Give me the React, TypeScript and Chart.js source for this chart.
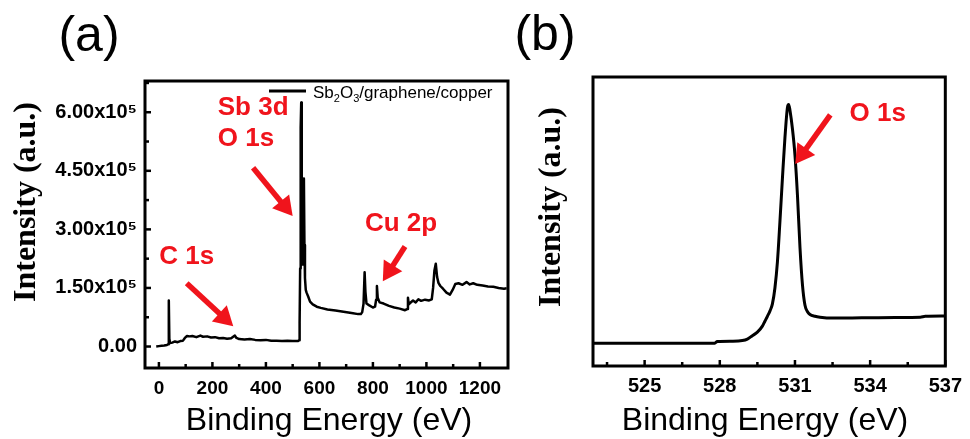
import React, { useEffect, useRef } from 'react';
import { Chart, registerables } from 'chart.js';

Chart.register(...registerables);

// ---------- data: (a) XPS survey ----------
const surveyEnergy = [
  -10, 0, 10, 20, 30, 35, 37, 39, 42, 50, 60, 70, 80, 90, 97, 105, 115, 125, 140, 155,
  165, 180, 195, 210, 225, 240, 255, 270, 284, 290, 300, 320, 340, 360, 380, 400, 420, 440, 460, 480,
  500, 515, 520, 524, 526, 528, 530, 532, 534, 536, 538, 540, 542, 544, 546, 549, 552, 558, 565, 575,
  590, 605, 630, 660, 690, 720, 745, 755, 760, 765, 769, 772, 776, 785, 800, 808, 812, 815, 818, 825,
  840, 860, 880, 900, 920, 928, 931, 934, 940, 950, 960, 970, 980, 995, 1010, 1020, 1025, 1030, 1035, 1040,
  1045, 1052, 1062, 1075, 1088, 1098, 1108, 1120, 1135, 1150, 1162, 1175, 1190, 1210, 1230, 1250, 1270, 1290, 1300,
];
const surveyIntensity = [
  0, 1000, 2000, 2500, 4000, 6000, 118000, 20000, 9000, 10000, 13000, 11000, 14000, 15000, 22000, 27000, 26000, 27000, 24000, 28000,
  25000, 26000, 23000, 24000, 21000, 22000, 20000, 21000, 28000, 22000, 19000, 18000, 19000, 17000, 16000, 17000, 15000, 15000, 14000, 14500,
  14000, 14000, 14000, 16000, 60000, 200000, 560000, 625000, 330000, 210000, 240000, 300000, 430000, 260000, 175000, 145000, 138000, 128000, 115000, 108000,
  102000, 99000, 95000, 92000, 89000, 86000, 83000, 83000, 88000, 110000, 190000, 140000, 110000, 106000, 100000, 102000, 120000, 155000, 125000, 113000,
  110000, 104000, 100000, 97000, 93000, 96000, 125000, 108000, 112000, 118000, 113000, 121000, 117000, 120000, 118000, 121000, 150000, 195000, 212000, 178000,
  163000, 155000, 148000, 138000, 133000, 145000, 160000, 162000, 158000, 165000, 159000, 162000, 158000, 156000, 154000, 153000, 150000, 148000, 149000,
];
const surveyXTicks = [0, 200, 400, 600, 800, 1000, 1200];
const surveyXMinor = [100, 300, 500, 700, 900, 1100];
const surveyYTicks = [0, 150000, 300000, 450000, 600000];
const surveyYMinor = [75000, 225000, 375000, 525000, 675000];

// ---------- data: (b) O 1s ----------
const o1sEnergy = [
  522.9, 524.0, 525.0, 526.0, 527.0, 527.8, 527.9, 528.5, 528.9, 529.1, 529.3, 529.5, 529.7, 529.8, 529.9,
  530.0, 530.1, 530.2, 530.3, 530.4, 530.5, 530.6, 530.7, 530.75, 530.8, 530.9, 531.0, 531.1, 531.2, 531.3,
  531.4, 531.5, 531.6, 531.8, 532.0, 532.5, 533.0, 534.0, 535.0, 536.0, 536.2, 537.0,
];
const o1sIntensity = [
  0.079, 0.079, 0.079, 0.079, 0.079, 0.079, 0.085, 0.086, 0.088, 0.093, 0.105, 0.117, 0.138, 0.155, 0.172,
  0.19, 0.215, 0.27, 0.36, 0.5, 0.65, 0.79, 0.895, 0.905, 0.885, 0.82, 0.73, 0.59, 0.41, 0.28,
  0.21, 0.188, 0.178, 0.172, 0.169, 0.166, 0.166, 0.167, 0.168, 0.169, 0.172, 0.173,
];
const o1sXTicks = [525, 528, 531, 534, 537];
const o1sXMinor = [523.5, 526.5, 529.5, 532.5, 535.5];

// ---------- annotation texts ----------
const surveyLabels = [
  { text: 'Sb 3d', x: 220, y: 612000 },
  { text: 'O 1s', x: 220, y: 531000 },
  { text: 'C 1s', x: 1, y: 229000 },
  { text: 'Cu 2p', x: 770, y: 315000 },
];
const surveyArrows = [
  { x0: 352, y0: 458000, x1: 500, y1: 334000 },
  { x0: 104, y0: 162000, x1: 278, y1: 52000 },
  { x0: 920, y0: 256000, x1: 837, y1: 167000 },
];
const o1sLabels = [{ text: 'O 1s', x: 533.18, y: 0.872 }];
const o1sArrows = [{ x0: 532.41, y0: 0.869, x1: 531.01, y1: 0.699 }];
const legendParts = [
  { t: 'Sb', sub: false },
  { t: '2', sub: true },
  { t: 'O', sub: false },
  { t: '3', sub: true },
  { t: '/graphene/copper', sub: false },
];

const SANS = "'Liberation Sans', Arial, Helvetica, sans-serif";
const SERIF = "'Liberation Serif', 'Times New Roman', serif";
const RED = '#f0141c';

const frameTicksPlugin = {
  id: 'frameTicks',
  afterDatasetsDraw(chart: any, _args: any, opts: any) {
    const { ctx, chartArea: a } = chart;
    const xs = chart.scales.x;
    const ys = chart.scales.y;
    ctx.save();
    ctx.strokeStyle = '#000';
    ctx.lineWidth = 2.5;
    const seg = (x0: number, y0: number, x1: number, y1: number) => {
      ctx.beginPath();
      ctx.moveTo(x0, y0);
      ctx.lineTo(x1, y1);
      ctx.stroke();
    };
    (opts.xMajor || []).forEach((v: number) => {
      const p = xs.getPixelForValue(v);
      seg(p, a.bottom, p, a.bottom - 6);
    });
    (opts.xMinor || []).forEach((v: number) => {
      const p = xs.getPixelForValue(v);
      seg(p, a.bottom, p, a.bottom - 4);
    });
    (opts.yMajor || []).forEach((v: number) => {
      const p = ys.getPixelForValue(v);
      seg(a.left, p, a.left + 6, p);
    });
    (opts.yMinor || []).forEach((v: number) => {
      const p = ys.getPixelForValue(v);
      seg(a.left, p, a.left + 4, p);
    });
    ctx.lineWidth = 3;
    ctx.strokeRect(a.left, a.top, a.right - a.left, a.bottom - a.top);
    ctx.restore();
  },
};

const notesPlugin = {
  id: 'notes',
  afterDraw(chart: any, _args: any, opts: any) {
    const { ctx, chartArea: a } = chart;
    const xs = chart.scales.x;
    const ys = chart.scales.y;
    ctx.save();
    ctx.fillStyle = RED;
    ctx.font = `bold 26px ${SANS}`;
    ctx.textBaseline = 'middle';
    ctx.textAlign = 'left';
    (opts.labels || []).forEach((l: any) => {
      ctx.fillText(l.text, xs.getPixelForValue(l.x), ys.getPixelForValue(l.y));
    });
    (opts.arrows || []).forEach((ar: any) => {
      const x0 = xs.getPixelForValue(ar.x0);
      const y0 = ys.getPixelForValue(ar.y0);
      const x1 = xs.getPixelForValue(ar.x1);
      const y1 = ys.getPixelForValue(ar.y1);
      const dx = x1 - x0;
      const dy = y1 - y0;
      const len = Math.hypot(dx, dy);
      const ux = dx / len;
      const uy = dy / len;
      const headLen = 19;
      const headW = 11;
      const bx = x1 - ux * headLen;
      const by = y1 - uy * headLen;
      ctx.strokeStyle = RED;
      ctx.lineWidth = 5.5;
      ctx.lineCap = 'butt';
      ctx.beginPath();
      ctx.moveTo(x0, y0);
      ctx.lineTo(bx + ux * 2, by + uy * 2);
      ctx.stroke();
      ctx.beginPath();
      ctx.moveTo(x1, y1);
      ctx.lineTo(bx - uy * headW, by + ux * headW);
      ctx.lineTo(bx + uy * headW, by - ux * headW);
      ctx.closePath();
      ctx.fill();
    });
    if (opts.legend) {
      const lx = a.left + 124;
      const ly = a.top + 10;
      ctx.strokeStyle = '#000';
      ctx.lineWidth = 3;
      ctx.beginPath();
      ctx.moveTo(lx, ly);
      ctx.lineTo(lx + 37, ly);
      ctx.stroke();
      ctx.fillStyle = '#000';
      ctx.textBaseline = 'alphabetic';
      let tx = lx + 44;
      const base = ly + 7;
      legendParts.forEach((p) => {
        ctx.font = p.sub ? `11px ${SANS}` : `17px ${SANS}`;
        ctx.fillText(p.t, tx, p.sub ? base + 4 : base);
        tx += ctx.measureText(p.t).width;
      });
    }
    ctx.restore();
  },
};

function tickFont(size: number) {
  return { family: SANS, size, weight: 'bold' as const };
}

function SurveyChart() {
  const ref = useRef<HTMLCanvasElement | null>(null);
  useEffect(() => {
    if (!ref.current) return;
    const chart = new Chart(ref.current, {
      type: 'line',
      data: {
        datasets: [
          {
            data: surveyEnergy.map((x, i) => ({ x, y: surveyIntensity[i] })),
            borderColor: '#000',
            borderWidth: 2.5,
            pointRadius: 0,
            tension: 0,
            fill: false,
            borderJoinStyle: 'round',
          },
        ],
      },
      options: {
        animation: false,
        responsive: false,
        maintainAspectRatio: false,
        layout: { padding: { top: 81, right: 12, left: 0, bottom: 0 } },
        plugins: {
          legend: { display: false },
          tooltip: { enabled: false },
          frameTicks: { xMajor: surveyXTicks, xMinor: surveyXMinor, yMajor: surveyYTicks, yMinor: surveyYMinor },
          notes: { labels: surveyLabels, arrows: surveyArrows, legend: true },
        } as any,
        scales: {
          x: {
            type: 'linear',
            min: -52,
            max: 1305,
            afterBuildTicks: (s: any) => {
              s.ticks = surveyXTicks.map((v) => ({ value: v }));
            },
            afterFit: (s: any) => {
              s.height = 71;
            },
            grid: { display: false, drawTicks: false },
            border: { display: false },
            ticks: {
              font: tickFont(19),
              color: '#000',
              padding: 9,
              maxRotation: 0,
              autoSkip: false,
              callback: (v: any) => String(v),
            },
          },
          y: {
            type: 'linear',
            min: -55000,
            max: 680000,
            afterBuildTicks: (s: any) => {
              s.ticks = surveyYTicks.map((v) => ({ value: v }));
            },
            afterFit: (s: any) => {
              s.width = 145;
            },
            grid: { display: false, drawTicks: false },
            border: { display: false },
            ticks: {
              font: tickFont(20),
              color: '#000',
              padding: 8,
              autoSkip: false,
              callback: (v: any) => (v === 0 ? '0.00' : (v / 100000).toFixed(2) + 'x10\u2075'),
            },
          },
        },
      },
      plugins: [frameTicksPlugin, notesPlugin],
    } as any);
    return () => chart.destroy();
  }, []);
  return (
    <canvas
      ref={ref}
      width={520}
      height={439}
      style={{ position: 'absolute', left: 0, top: 0, width: 520, height: 439 }}
    />
  );
}

function O1sChart() {
  const ref = useRef<HTMLCanvasElement | null>(null);
  useEffect(() => {
    if (!ref.current) return;
    const chart = new Chart(ref.current, {
      type: 'line',
      data: {
        datasets: [
          {
            data: o1sEnergy.map((x, i) => ({ x, y: o1sIntensity[i] })),
            borderColor: '#000',
            borderWidth: 3,
            pointRadius: 0,
            cubicInterpolationMode: 'monotone',
            fill: false,
          },
        ],
      },
      options: {
        animation: false,
        responsive: false,
        maintainAspectRatio: false,
        layout: { padding: { top: 77, right: 21, left: 0, bottom: 0 } },
        plugins: {
          legend: { display: false },
          tooltip: { enabled: false },
          frameTicks: { xMajor: o1sXTicks, xMinor: o1sXMinor },
          notes: { labels: o1sLabels, arrows: o1sArrows, legend: false },
        } as any,
        scales: {
          x: {
            type: 'linear',
            min: 522.94,
            max: 537,
            afterBuildTicks: (s: any) => {
              s.ticks = o1sXTicks.map((v) => ({ value: v }));
            },
            afterFit: (s: any) => {
              s.height = 73;
            },
            grid: { display: false, drawTicks: false },
            border: { display: false },
            ticks: {
              font: tickFont(20),
              color: '#000',
              padding: 8,
              maxRotation: 0,
              autoSkip: false,
              callback: (v: any) => String(v),
            },
          },
          y: {
            type: 'linear',
            min: 0,
            max: 1,
            afterFit: (s: any) => {
              s.width = 73;
            },
            grid: { display: false, drawTicks: false },
            border: { display: false },
            ticks: { display: false },
          },
        },
      },
      plugins: [frameTicksPlugin, notesPlugin],
    } as any);
    return () => chart.destroy();
  }, []);
  return (
    <canvas
      ref={ref}
      width={450}
      height={439}
      style={{ position: 'absolute', left: 520, top: 0, width: 450, height: 439 }}
    />
  );
}

const centered = (cx: number, cy: number, extra: React.CSSProperties = {}): React.CSSProperties => ({
  position: 'absolute',
  left: cx,
  top: cy,
  whiteSpace: 'nowrap',
  lineHeight: 1,
  color: '#000',
  transform: 'translate(-50%, -50%)',
  ...extra,
});

export default function App() {
  return (
    <div
      style={{
        position: 'fixed',
        left: 0,
        top: 0,
        width: 970,
        height: 439,
        background: '#fff',
        overflow: 'hidden',
      }}
    >
      <SurveyChart />
      <O1sChart />
      <div style={centered(89, 34, { fontFamily: SANS, fontSize: 50 })}>(a)</div>
      <div style={centered(545, 33, { fontFamily: SANS, fontSize: 50 })}>(b)</div>
      <div style={centered(329, 419, { fontFamily: SANS, fontSize: 32 })}>Binding Energy (eV)</div>
      <div style={centered(765, 419, { fontFamily: SANS, fontSize: 32 })}>Binding Energy (eV)</div>
      <div
        style={centered(24, 202, {
          fontFamily: SERIF,
          fontWeight: 'bold',
          fontSize: 32,
          transform: 'translate(-50%, -50%) rotate(-90deg)',
        })}
      >
        Intensity (a.u.)
      </div>
      <div
        style={centered(549, 207, {
          fontFamily: SERIF,
          fontWeight: 'bold',
          fontSize: 32,
          transform: 'translate(-50%, -50%) rotate(-90deg)',
        })}
      >
        Intensity (a.u.)
      </div>
    </div>
  );
}
